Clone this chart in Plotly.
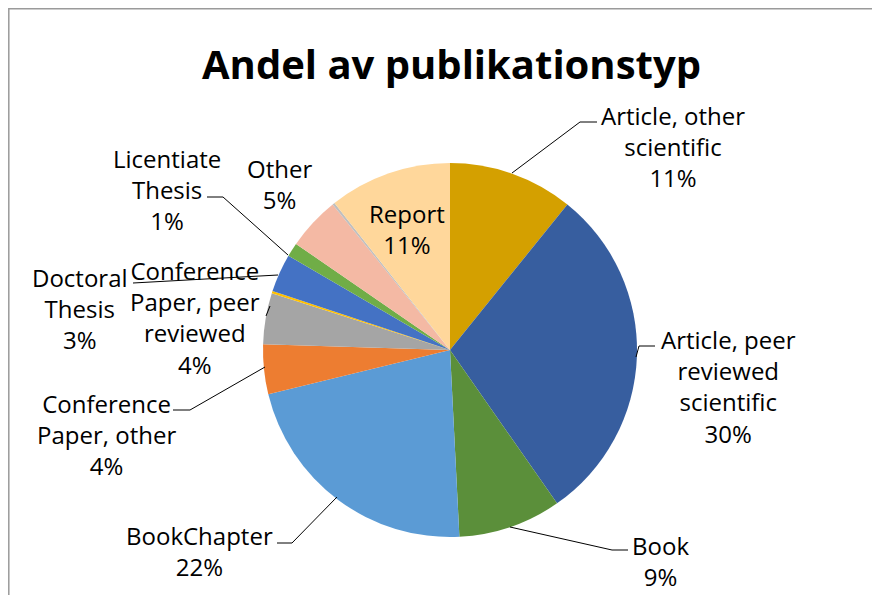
import plotly.graph_objects as go

# ---- data ----
categories = [
    "Article, other scientific", "Article, peer reviewed scientific", "Book",
    "BookChapter", "Conference Paper, other", "Conference Paper, peer reviewed",
    "Conference Proceeding", "Doctoral Thesis", "Licentiate Thesis", "Other",
    "Patent", "Report",
]
display_labels = [
    "Article, other<br>scientific", "Article, peer<br>reviewed<br>scientific", "Book",
    "BookChapter", "Conference<br>Paper, other", "Conference<br>Paper, peer<br>reviewed",
    None, "Doctoral<br>Thesis", "Licentiate<br>Thesis", "Other",
    None, "Report",
]
values = [10.8, 29.5, 8.9, 22.0, 4.3, 4.4, 0.2, 3.3, 1.2, 4.6, 0.2, 10.6]
colors = ["#D4A000", "#375E9F", "#5B8F3A", "#5B9BD5", "#ED7D31", "#A5A5A5",
          "#FFC000", "#4472C4", "#70AD47", "#F4B9A4", "#BFBFBF", "#FFD79B"]

# ---- layout helpers (pixel positions of labels / leader lines) ----
W, H = 880, 595
OFF = 8  # page body margin offset
label_pos = {  # centre x, centre y (px, in window coordinates)
    0: (673, 146), 1: (728, 386), 2: (660, 561), 3: (199, 551),
    4: (106, 434), 5: (195, 317), 7: (80, 308), 8: (167, 189),
    9: (279, 184), 11: (407, 229),
}
leaders = [
    [(597, 122), (580, 122), (512, 173)],
    [(655, 346), (639, 346), (636, 357)],
    [(628, 550), (612, 550), (510, 527)],
    [(277, 543), (292, 543), (337, 497)],
    [(173, 410), (190, 410), (265, 367)],
    [(266, 316), (270, 306)],
    [(133, 283), (278, 275)],
    [(207, 197), (223, 197), (288, 255)],
]

def px(x):
    return (x - OFF) / W

def py(y):
    return 1 - (y - OFF) / H

total = sum(values)
cx, cy, R = 450, 350, 187

fig = go.Figure(go.Pie(
    labels=categories, values=values, sort=False, direction="clockwise",
    rotation=0, textinfo="none", hoverinfo="label+percent",
    marker=dict(colors=colors, line=dict(width=0)),
    domain=dict(x=[px(cx - R), px(cx + R)], y=[py(cy + R), py(cy - R)]),
    showlegend=False,
))

annotations = [dict(
    text="<b>Andel av publikationstyp</b>", x=px(451), y=py(63), xref="paper", yref="paper",
    showarrow=False, xanchor="center", yanchor="middle",
    font=dict(family="Open Sans", size=40, color="#000000"),
)]
for i, (x, y) in label_pos.items():
    pct = round(values[i] / total * 100)
    annotations.append(dict(
        text=f"{display_labels[i]}<br>{pct}%", x=px(x), y=py(y),
        xref="paper", yref="paper", showarrow=False,
        xanchor="center", yanchor="middle", align="center",
        font=dict(family="Open Sans", size=24, color="#000000"),
    ))

shapes = [dict(type="rect", xref="paper", yref="paper",
               x0=px(8.8), y0=py(640), x1=px(920), y1=py(8.8),
               line=dict(color="#9A9A9A", width=1.5), fillcolor="rgba(0,0,0,0)")]
for pts in leaders:
    path = "M " + " L ".join(f"{px(a)},{py(b)}" for a, b in pts)
    shapes.append(dict(type="path", xref="paper", yref="paper", path=path,
                       line=dict(color="#000000", width=1)))

fig.update_layout(
    width=W, height=H, margin=dict(l=0, r=0, t=0, b=0),
    paper_bgcolor="#FFFFFF", plot_bgcolor="#FFFFFF",
    annotations=annotations, shapes=shapes,
)
fig.write_html("out.html")
